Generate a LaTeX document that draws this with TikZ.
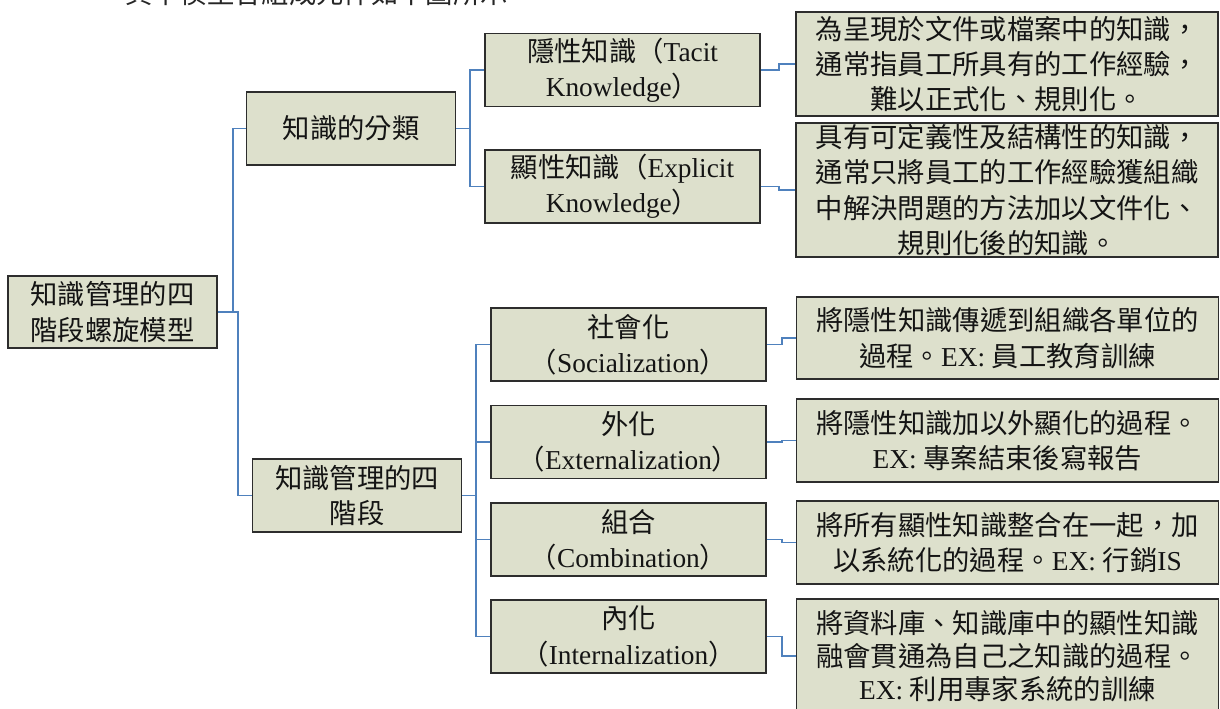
\documentclass[tikz,border=0pt]{standalone}
\usepackage{fontspec}
\setmainfont{Liberation Serif}
\newfontfamily\cjk{Noto Sans CJK TC}
\definecolor{boxfill}{RGB}{221,224,204}
\definecolor{boxline}{RGB}{45,45,45}
\definecolor{conn}{RGB}{79,129,189}
\begin{document}
\begin{tikzpicture}[x=0.75pt,y=-0.75pt,
  box/.style={draw=boxline,line width=1.2pt,fill=boxfill,align=center,inner sep=0pt,
    font=\fontsize{20.5}{26.5}\selectfont,text=black!92},
  lvlA/.style={box,minimum width=156.5pt,minimum height=54.5pt},
  lvlB/.style={box,minimum width=206.25pt,minimum height=55pt},
  desc/.style={box,minimum width=316.5pt},
  link/.style={draw=conn,line width=1.4pt}]
\clip (0,0) rectangle (1220,708);
\fill[white] (0,0) rectangle (1220,708);
% partial caption at top
\node[anchor=base west,inner sep=0pt,font=\fontsize{20.5}{26}\selectfont,text=black!85] (cap) at (125,3) {\cjk 其中模型各組成元件如下圖所示};
% root
\node[box,minimum width=156.75pt,minimum height=54pt,font=\fontsize{20.5}{27.5}\selectfont] (root) at (112.5,312) {\cjk 知識管理的四\\\cjk 階段螺旋模型};
% level A
\node[lvlA] (cls) at (351,128.5) {\cjk 知識的分類};
\node[lvlA] (stg) at (357,495.5) {\cjk 知識管理的四\\\cjk 階段};
% level B upper
\node[lvlB] (tac) at (622.5,70) {{\cjk 隱性知識（}Tacit\\Knowledge{\cjk ）}};
\node[lvlB] (exp) at (622.5,186.5) {{\cjk 顯性知識（}Explicit\\Knowledge{\cjk ）}};
% level B lower
\node[lvlB] (soc) at (628.5,344.5) {{\cjk 社會化}\\{\cjk （}Socialization{\cjk ）}};
\node[lvlB] (ext) at (628.5,442) {{\cjk 外化}\\{\cjk （}Externalization{\cjk ）}};
\node[lvlB] (com) at (628.5,539.5) {{\cjk 組合}\\{\cjk （}Combination{\cjk ）}};
\node[lvlB] (inn) at (628.5,636.5) {{\cjk 內化}\\{\cjk （}Internalization{\cjk ）}};
% descriptions
\node[desc,minimum height=78pt] (d1) at (1007,64) {\cjk 為呈現於文件或檔案中的知識，\\\cjk 通常指員工所具有的工作經驗，\\\cjk 難以正式化、規則化。};
\node[desc,minimum height=100.5pt] (d2) at (1007,190) {\cjk 具有可定義性及結構性的知識，\\\cjk 通常只將員工的工作經驗獲組織\\\cjk 中解決問題的方法加以文件化、\\\cjk 規則化後的知識。};
\node[desc,minimum height=61.5pt] (d3) at (1007.5,338) {\cjk 將隱性知識傳遞到組織各單位的\\{\cjk 過程。}EX: {\cjk 員工教育訓練}};
\node[desc,minimum height=62pt] (d4) at (1007.5,440.5) {\cjk 將隱性知識加以外顯化的過程。\\EX: {\cjk 專案結束後寫報告}};
\node[desc,minimum height=62pt] (d5) at (1007.5,542.5) {\cjk 將所有顯性知識整合在一起，加\\{\cjk 以系統化的過程。}EX: {\cjk 行銷}IS};
\node[desc,minimum height=85.5pt,font=\fontsize{20.5}{24.5}\selectfont] (d6) at (1007.5,656) {\cjk 將資料庫、知識庫中的顯性知識\\\cjk 融會貫通為自己之知識的過程。\\EX: {\cjk 利用專家系統的訓練}};
% connectors
\draw[link] (root.east) -- ++(15,0) |- (cls.west);
\draw[link] (root.east) -- ++(20,0) |- (stg.west);
\draw[link] (cls.east) -- ++(14,0) |- (tac.west);
\draw[link] (cls.east) -- ++(14,0) |- (exp.west);
\draw[link] (tac.east) -- ++(18,0) |- (d1.west);
\draw[link] (exp.east) -- ++(18,0) |- (d2.west);
\draw[link] (stg.east) -- ++(14,0) |- (soc.west);
\draw[link] (stg.east) -- ++(14,0) |- (ext.west);
\draw[link] (stg.east) -- ++(14,0) |- (com.west);
\draw[link] (stg.east) -- ++(14,0) |- (inn.west);
\draw[link] (soc.east) -- ++(15,0) |- (d3.west);
\draw[link] (ext.east) -- ++(15,0) |- (d4.west);
\draw[link] (com.east) -- ++(15,0) |- (d5.west);
\draw[link] (inn.east) -- ++(15,0) |- (d6.west);
\end{tikzpicture}
\end{document}
